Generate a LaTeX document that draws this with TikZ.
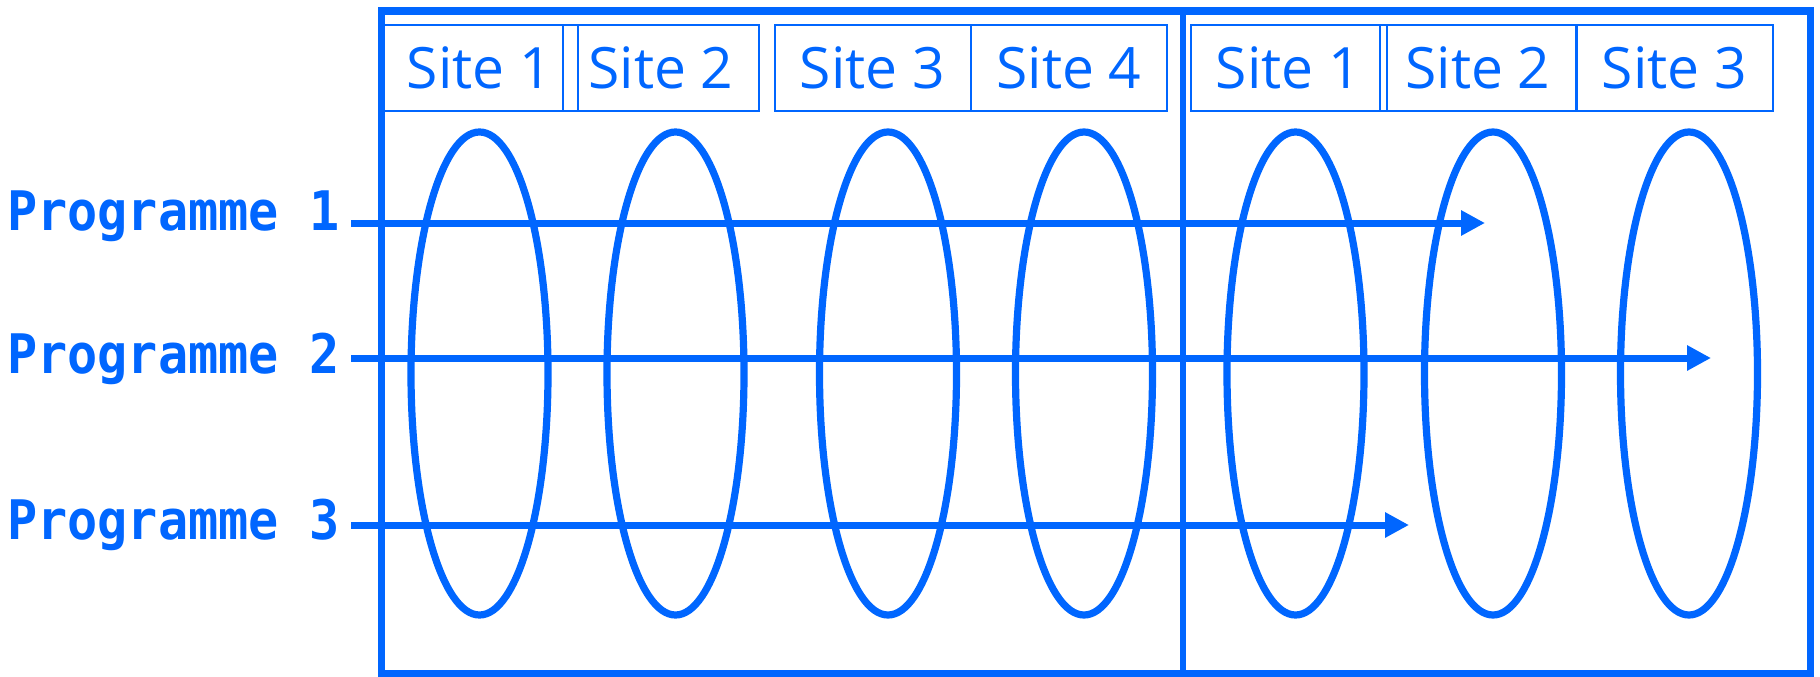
\documentclass[tikz,border=0pt]{standalone}
\usepackage{fontspec}
\usetikzlibrary{arrows.meta,shapes.geometric}
\newfontfamily\sitefont{Open Sans}
\newfontfamily\progfont[FakeStretch=0.92]{DejaVu Sans Mono Bold}
\definecolor{blu}{RGB}{0,102,255}
\begin{document}
\begin{tikzpicture}[x=1pt,y=-1pt,
  frameline/.style={draw=blu,line width=7.7pt},
  sitebox/.style={draw=blu,line width=2pt,rectangle,minimum width=196pt,minimum height=85.5pt,inner sep=0pt,text=blu,font=\sitefont\fontsize{57}{60}\selectfont},
  loopell/.style={draw=blu,line width=7.2pt,ellipse,minimum width=137pt,minimum height=483pt,inner sep=0pt},
  prog/.style={anchor=base west,text=blu,inner sep=0pt,font=\progfont\fontsize{54.5}{60}\selectfont},
  flow/.style={draw=blu,line width=7pt,-{Triangle[length=24pt,width=24pt]}}
]
\useasboundingbox (0,0) rectangle (1820,677);
% header boxes
\node[sitebox] (ls1) at (479.5,68.25) {Site 1};
\node[sitebox] (ls2) at (661,68.25) {Site 2};
\node[sitebox] (ls3) at (872.5,68.25) {Site 3};
\node[sitebox] (ls4) at (1069,68.25) {Site 4};
\node[sitebox] (rs1) at (1288.5,68.25) {Site 1};
\node[sitebox] (rs2) at (1478,68.25) {Site 2};
\node[sitebox] (rs3) at (1674.5,68.25) {Site 3};
% frame
\draw[frameline] (381.5,11) rectangle (1810.5,673.5);
\draw[blu,line width=6.7pt] (1183,11) -- (1183,673.5);
% loops
\node[loopell] (e1) at (479.5,373.5) {};
\node[loopell] (e2) at (675.5,373.5) {};
\node[loopell] (e3) at (888,373.5) {};
\node[loopell] (e4) at (1084,373.5) {};
\node[loopell] (e5) at (1295.5,373.5) {};
\node[loopell] (e6) at (1493,373.5) {};
\node[loopell] (e7) at (1689,373.5) {};
% labels
\node[prog] (p1) at (7,230) {Programme 1};
\node[prog] (p2) at (7,373) {Programme 2};
\node[prog] (p3) at (7,539) {Programme 3};
% arrows
\coordinate (p1s) at (351,223);
\coordinate (p1e) at (1485,223);
\coordinate (p2s) at (351,358);
\coordinate (p2e) at (1711,358);
\coordinate (p3s) at (351,525);
\coordinate (p3e) at (1409,525);
\draw[flow] (p1s) -- (p1e);
\draw[flow] (p2s) -- (p2e);
\draw[flow] (p3s) -- (p3e);
\end{tikzpicture}
\end{document}
